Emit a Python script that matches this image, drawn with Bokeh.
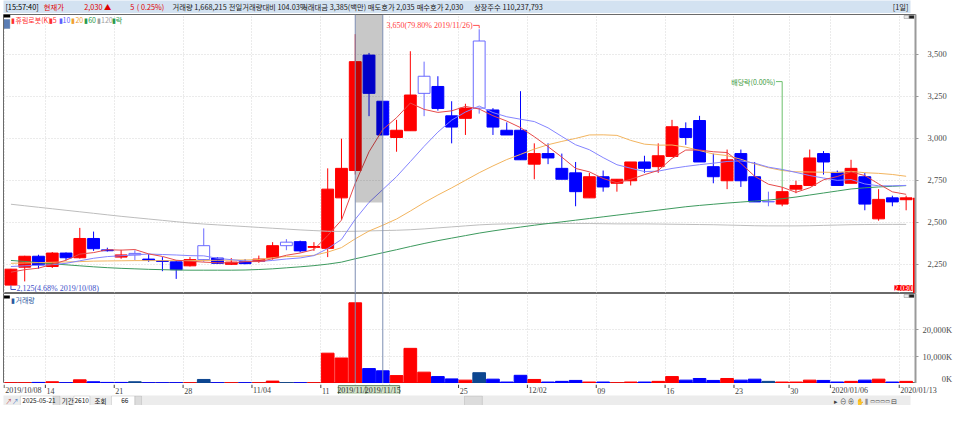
from bokeh.plotting import figure
from bokeh.models import (Range1d, FixedTicker, NumeralTickFormatter, Span, BoxAnnotation,
                          Label, ColumnDataSource, Grid)
from bokeh.layouts import column
from bokeh.embed import file_html
from bokeh.resources import INLINE
from bokeh.core.properties import value

# ---------------- data ----------------
dates = ["2019/10/08", "2019/10/10", "2019/10/11", "2019/10/14", "2019/10/15", "2019/10/16",
         "2019/10/17", "2019/10/18", "2019/10/21", "2019/10/22", "2019/10/23", "2019/10/24",
         "2019/10/25", "2019/10/28", "2019/10/29", "2019/10/30", "2019/10/31", "2019/11/01",
         "2019/11/04", "2019/11/05", "2019/11/06", "2019/11/07", "2019/11/08", "2019/11/11",
         "2019/11/12", "2019/11/13", "2019/11/14", "2019/11/15", "2019/11/18", "2019/11/19",
         "2019/11/20", "2019/11/21", "2019/11/22", "2019/11/25", "2019/11/26", "2019/11/27",
         "2019/11/28", "2019/11/29", "2019/12/02", "2019/12/03", "2019/12/04", "2019/12/05",
         "2019/12/06", "2019/12/09", "2019/12/10", "2019/12/11", "2019/12/12", "2019/12/13",
         "2019/12/16", "2019/12/17", "2019/12/18", "2019/12/19", "2019/12/20", "2019/12/23",
         "2019/12/24", "2019/12/26", "2019/12/27", "2019/12/30", "2020/01/02", "2020/01/03",
         "2020/01/06", "2020/01/07", "2020/01/08", "2020/01/09", "2020/01/10", "2020/01/13"]

opens = [2125, 2232, 2297, 2236, 2316, 2288, 2403, 2335, 2292, 2314, 2280, 2271, 2264, 2240,
         2360, 2286, 2249, 2264, 2266, 2288, 2381, 2384, 2350, 2344, 2645, 2808, 3496, 3221,
         3005, 3045, 3370, 3309, 3134, 3119, 3580, 3169, 3048, 3048, 2846, 2909, 2821, 2794,
         2645, 2771, 2732, 2747, 2859, 2831, 2892, 3058, 3106, 2831, 2747, 2909, 2771, 2624,
         2608, 2697, 2719, 2909, 2797, 2732, 2771, 2520, 2645, 2634]
highs = [2222, 2300, 2306, 2322, 2320, 2466, 2444, 2348, 2335, 2333, 2310, 2292, 2273, 2292,
         2463, 2290, 2286, 2280, 2301, 2381, 2399, 2390, 2381, 2821, 2998, 3621, 3509, 3221,
         3110, 3519, 3457, 3370, 3221, 3206, 3650, 3180, 3095, 3281, 2970, 2970, 2909, 2859,
         2794, 2808, 2756, 2859, 2896, 2970, 3110, 3095, 3134, 2909, 2933, 2933, 2859, 2682,
         2710, 2747, 2933, 2924, 2808, 2872, 2794, 2697, 2658, 2658]
lows = [2125, 2147, 2223, 2227, 2273, 2283, 2329, 2325, 2282, 2273, 2264, 2208, 2162, 2236,
        2264, 2251, 2245, 2249, 2258, 2277, 2333, 2320, 2329, 2292, 2515, 2784, 3132, 3020,
        2920, 3045, 3132, 3165, 2970, 3020, 3147, 3020, 3020, 2872, 2756, 2846, 2756, 2595,
        2645, 2682, 2682, 2719, 2794, 2794, 2892, 2961, 2859, 2732, 2697, 2710, 2621, 2595,
        2595, 2673, 2719, 2784, 2719, 2732, 2571, 2509, 2595, 2571]
closes = [2220, 2297, 2245, 2316, 2288, 2403, 2342, 2330, 2305, 2305, 2273, 2266, 2217, 2277,
          2277, 2255, 2262, 2253, 2280, 2360, 2360, 2329, 2355, 2697, 2821, 3457, 3268, 3020,
          3048, 3258, 3268, 3178, 3067, 3180, 3180, 3067, 3020, 2872, 2909, 2883, 2756, 2682,
          2771, 2710, 2756, 2859, 2821, 2896, 3069, 3005, 2859, 2771, 2872, 2747, 2621, 2621,
          2682, 2719, 2883, 2859, 2719, 2821, 2608, 2636, 2621, 2645]
volumes_k = [290, 290, 400, 640, 290, 1360, 640, 400, 400, 640, 290, 290, 290, 290,
             1500, 290, 290, 290, 290, 890, 290, 290, 290, 11250, 9460, 29930, 5540, 4710,
             2930, 13040, 4210, 2570, 1710, 1250, 4000, 1610, 540, 3040, 1500, 540, 790, 1140,
             540, 540, 290, 540, 540, 790, 2570, 1250, 1860, 1140, 1860, 1250, 1610, 790,
             540, 540, 1250, 1140, 540, 790, 1250, 1610, 540, 790]

# moving-average values before a full window is visible
ma5_head = [2202, 2217, 2226, 2249]
ma10_head = [2236, 2240, 2243, 2247, 2255, 2270, 2285, 2295, 2300]
ma20_head = [2255, 2257, 2259, 2261, 2263, 2265, 2268, 2269, 2270, 2271, 2271, 2271, 2271,
             2272, 2272, 2273, 2274, 2275, 2277]
ma60 = [2272, 2266, 2259, 2252, 2246, 2240, 2234, 2229, 2225, 2222, 2219, 2217, 2215, 2214,
        2214, 2214, 2214, 2215, 2218, 2222, 2228, 2234, 2241, 2250, 2262, 2282, 2300, 2318,
        2336, 2355, 2373, 2390, 2405, 2420, 2435, 2448, 2460, 2471, 2482, 2492, 2502, 2512,
        2522, 2532, 2542, 2552, 2562, 2572, 2582, 2592, 2600, 2607, 2614, 2620, 2626, 2632,
        2640, 2650, 2662, 2674, 2686, 2698, 2705, 2710, 2714, 2718]
ma120 = [2607, 2598, 2589, 2580, 2571, 2562, 2553, 2544, 2535, 2527, 2519, 2511, 2503, 2495,
         2489, 2484, 2479, 2474, 2469, 2464, 2459, 2454, 2450, 2446, 2445, 2446, 2448, 2450,
         2452, 2455, 2460, 2466, 2472, 2478, 2484, 2488, 2490, 2491, 2492, 2492, 2492, 2492,
         2492, 2491, 2490, 2490, 2490, 2489, 2488, 2487, 2486, 2485, 2483, 2481, 2479, 2478,
         2478, 2478, 2479, 2481, 2483, 2485, 2486, 2487, 2487, 2487]

tick_idx = [0, 3, 8, 13, 18, 23, 28, 33, 38, 43, 48, 53, 57, 60, 65]
tick_labels = ["2019/10/08", "14", "21", "28", "11/04", "11", "18", "25", "12/02", "09",
               "16", "23", "30", "2020/01/06", "2020/01/13"]
price_ticks = [2250, 2500, 2750, 3000, 3250, 3500]
volume_ticks_k = [0, 10000, 20000]

stock_name = "휴림로봇(K)"
current_price = 2030
change = 5
volume_today = "1,668,215"
vol_vs_prev = "104.03%"
turnover = "3,385(백만)"
ask_price = "2,035"
bid_price = "2,030"
shares = "110,237,793"
clock = "[15:57:40]"
sel_from, sel_to = 25, 27        # crosshair range (candle index)
sel_band_low = 2617
exdiv_idx = 56
exdiv_text = "배당락(0.00%)"

# ---------------- derived ----------------
n = len(closes)
idx = list(range(n))


def sma(vals, w, head):
    out = list(head)
    for i in range(w - 1, len(vals)):
        out.append(sum(vals[i - w + 1:i + 1]) / w)
    return out


ma5 = sma(closes, 5, ma5_head)
ma10 = sma(closes, 10, ma10_head)
ma20 = sma(closes, 20, ma20_head)

RED, BLUE, HOLLOW, NAVY = "#ff0000", "#0000ff", "#6b6bff", "#0d4690"
fills, lines, vcols = [], [], []
for i in range(n):
    if closes[i] > opens[i]:
        fills.append(RED); lines.append(RED)
    elif i > 0 and closes[i] >= closes[i - 1]:
        fills.append("#ffffff"); lines.append(HOLLOW)
    else:
        fills.append(BLUE); lines.append(BLUE)
    if i == 0 or closes[i] > closes[i - 1]:
        vcols.append(RED)
    elif closes[i] < closes[i - 1]:
        vcols.append(BLUE)
    else:
        vcols.append(NAVY)

src = ColumnDataSource(dict(x=idx, top=[max(o, c) for o, c in zip(opens, closes)],
                            bottom=[min(o, c) for o, c in zip(opens, closes)],
                            high=highs, low=lows, fill=fills, line=lines,
                            vol=volumes_k, vcol=vcols))

NUMF = "Liberation Sans Narrow"
KRF = "Noto Sans CJK KR"
X0, X1 = -0.54, 65.68
XR = Range1d(X0, X1)
FW = 912
RIGHT = 35
PH = 279
x_ticks = [t - 0.5 for t in tick_idx]
PMIN, PMAX = 2075, 3738
VMAX = 33390
GRID = "#d6d6d6"
ppx = (PMAX - PMIN) / PH


def style_right_axis(ax, standoff):
    ax.major_label_text_font = NUMF
    ax.major_label_text_font_size = "8.5px"
    ax.major_label_text_color = "#4a4a4a"
    ax.axis_line_color = "#9a9a9a"
    ax.axis_line_width = 2
    ax.major_tick_line_color = "#9a9a9a"
    ax.major_tick_in = 0
    ax.major_tick_out = 3
    ax.minor_tick_line_color = None
    ax.major_label_standoff = standoff


# ---------------- info bar ----------------
info = figure(width=950, height=13, x_range=Range1d(0, 966), y_range=Range1d(0, 13),
              toolbar_location=None, output_backend="svg", x_axis_type=None, y_axis_type=None,
              min_border=0, background_fill_color="#d3e2f1", outline_line_color=None)
info.grid.visible = False
pct = change / (current_price - change) * 100
info_items = [
    (2, clock, "#000000"), (43, "현재가", "#e00000"), (86, f"{current_price:,}", "#e00000"),
    (107, "▲", "#e00000"), (135, f"{change}", "#e00000"), (142, f"( {pct:.2f}%)", "#e00000"),
    (180, f"거래량 {volume_today}", "#202020"), (240, f"전일거래량대비 {vol_vs_prev}", "#202020"),
    (317, f"거래대금 {turnover}", "#202020"), (388, f"매도호가 {ask_price}", "#202020"),
    (440, f"매수호가 {bid_price}", "#202020"), (501, f"상장주수 {shares}", "#202020"),
    (947, "[1일]", "#202020"),
]
for xx, t, c in info_items:
    info.add_layout(Label(x=xx, y=6.5, text=t, text_color=c, text_font=KRF,
                          text_font_size="7.3px", text_baseline="middle"))

# ---------------- price panel ----------------
p = figure(frame_width=FW, frame_height=PH, x_range=XR, y_range=Range1d(PMIN, PMAX),
           x_axis_type=None, y_axis_location="right", toolbar_location=None,
           output_backend="svg", min_border_left=3, min_border_right=RIGHT, min_border_top=1,
           min_border_bottom=0, outline_line_color="#6a6a6a", background_fill_color="white")
p.add_layout(Grid(dimension=0, ticker=FixedTicker(ticks=x_ticks), grid_line_color=GRID,
                  grid_line_dash="1 2"))
p.yaxis.ticker = FixedTicker(ticks=price_ticks)
p.yaxis.formatter = NumeralTickFormatter(format="0,0")
p.ygrid.grid_line_color = GRID
p.ygrid.grid_line_dash = "1 2"
style_right_axis(p.yaxis[0], 9)

p.segment(x0="x", y0="low", x1="x", y1="high", line_color="line", line_width=1, source=src)
p.vbar(x="x", top="top", bottom="bottom", width=0.86, fill_color="fill", line_color="line",
       line_width=1, source=src)

p.line(idx, ma120, line_color="#bdbdbd", line_width=1)
p.line(idx, ma60, line_color="#3d9a5e", line_width=1)
p.line(idx, ma20, line_color="#f2b45e", line_width=1)
p.line(idx, ma10, line_color="#8484ff", line_width=1)
p.line(idx, ma5, line_color="#e64a4a", line_width=1)

# current price drop line at the right edge
p.segment(x0=[n - 1 + 0.57], y0=[closes[-1]], x1=[n - 1 + 0.57], y1=[current_price],
          line_color=RED, line_width=2)

# crosshair range band and lines
p.add_layout(BoxAnnotation(left=sel_from, right=sel_to, bottom=sel_band_low,
                           fill_color="black", fill_alpha=0.215, line_color=None))
for loc in (sel_from, sel_to):
    p.add_layout(Span(location=loc, dimension="height", line_color="#7d8eb3", line_width=1))

# max / min markers
hi_i = max(range(n), key=lambda i: highs[i])
lo_i = min(range(n), key=lambda i: lows[i])
hi, lo = highs[hi_i], lows[lo_i]
hi_txt = f"{hi:,}({(hi / current_price - 1) * 100:.2f}% {dates[hi_i]})"
lo_txt = f"{lo:,}({(lo / current_price - 1) * 100:.2f}% {dates[lo_i]})"
p.line([hi_i - 0.44, hi_i, hi_i], [hi + 23, hi + 23, hi + 6], line_color="#ff5050", line_width=1)
p.add_layout(Label(x=hi_i - 0.47, y=hi + 23, text=hi_txt, text_align="right",
                   text_baseline="middle", text_color="#ff4040", text_font=NUMF,
                   text_font_size="8px"))
p.line([lo_i, lo_i, lo_i + 0.36], [lo - 2, lo - 26, lo - 26], line_color="#4050c8", line_width=1)
p.add_layout(Label(x=lo_i + 0.4, y=lo - 22, text=lo_txt, text_align="left",
                   text_baseline="middle", text_color="#4050c8", text_font=NUMF,
                   text_font_size="8px"))

# ex-dividend marker
ex_y = 3338
p.line([exdiv_idx - 0.45, exdiv_idx, exdiv_idx], [ex_y, ex_y, highs[exdiv_idx]],
       line_color="#6cc06c", line_width=1)
p.add_layout(Label(x=exdiv_idx - 0.5, y=ex_y, text=exdiv_text, text_align="right",
                   text_baseline="middle", text_color="#3c9a3c", text_font=KRF,
                   text_font_size="7px"))

# legend and panel buttons
p.add_layout(BoxAnnotation(left=-0.54, right=-0.05, top=PMAX, bottom=PMAX - 3 * ppx,
                           fill_color="#000000", fill_alpha=1, line_color=None))
p.add_layout(BoxAnnotation(left=-0.5, right=-0.08, top=PMAX - 5 * ppx, bottom=PMAX - 14 * ppx,
                           fill_color="#5a7db5", fill_alpha=1, line_color="#3a5a8a"))
for l, r, c in [(64.85, 65.2, "#e8e8e8"), (65.22, 65.57, "#202020")]:
    p.add_layout(BoxAnnotation(left=l, right=r, top=PMAX - 1 * ppx, bottom=PMAX - 4 * ppx,
                               fill_color=c, fill_alpha=1, line_color="#505050"))
legend_items = [(0.04, "▮" + stock_name, "#ff3030"), (2.75, "▮5", "#ff3030"),
                (3.46, "▮10", "#6060ff"), (4.39, "▮20", "#f0a030"), (5.32, "▮60", "#2a9a4a"),
                (6.25, "▮120", "#a0a0a0"), (7.32, "▮락", "#2a9a4a")]
for xx, t, c in legend_items:
    p.add_layout(Label(x=xx, y=PMAX - ppx * 0.3, text=t, text_color=c, text_font=KRF,
                       text_font_size="7px", text_baseline="top"))

# current price tag (kept inside the frame, next to the drop line)
p.add_layout(Label(x=n - 1 + 0.45, y=PMIN + 2.5 * ppx, text=f"{current_price:,}",
                   text_color="white", background_fill_color=RED, text_font=NUMF,
                   text_font_size="8px", text_baseline="bottom", text_align="right"))

# ---------------- volume panel ----------------
v = figure(frame_width=FW, frame_height=90, x_range=XR, y_range=Range1d(0, VMAX),
           x_axis_type=None, y_axis_location="right", toolbar_location=None,
           output_backend="svg", min_border_left=3, min_border_right=RIGHT, min_border_top=0,
           min_border_bottom=0, outline_line_color="#6a6a6a", background_fill_color="white")
v.add_layout(Grid(dimension=0, ticker=FixedTicker(ticks=x_ticks), grid_line_color=GRID,
                  grid_line_dash="1 2"))
v.vbar(x="x", top="vol", bottom=0, width=0.92, fill_color="vcol", line_color="vcol",
       source=src)
v.yaxis.ticker = FixedTicker(ticks=volume_ticks_k)
pad = "\u2007\u2007\u2008\u2007\u2007"
v.yaxis.major_label_overrides = {t: (f"{t:,}K" if t else pad + "0K") for t in volume_ticks_k}
style_right_axis(v.yaxis[0], 4)
v.ygrid.grid_line_color = GRID
v.ygrid.grid_line_dash = "1 2"
for loc in (sel_from, sel_to):
    v.add_layout(Span(location=loc, dimension="height", line_color="#7d8eb3", line_width=1))
vpx = VMAX / 90
v.add_layout(BoxAnnotation(left=-0.5, right=-0.08, top=VMAX - 2 * vpx, bottom=VMAX - 5 * vpx,
                           fill_color="#000000", fill_alpha=1, line_color=None))
for l, r, c in [(64.85, 65.2, "#e8e8e8"), (65.22, 65.57, "#202020")]:
    v.add_layout(BoxAnnotation(left=l, right=r, top=VMAX - 1 * vpx, bottom=VMAX - 4 * vpx,
                               fill_color=c, fill_alpha=1, line_color="#505050"))
v.add_layout(Label(x=0.04, y=VMAX - 1 * vpx, text="▮거래량", text_color="#2a5aa0",
                   text_font=KRF, text_font_size="7px", text_baseline="top"))

# ---------------- date strip (x labels), frame runs under the axis column too --------
per_px = (X1 - X0) / FW
ds = figure(frame_width=FW + RIGHT, frame_height=11, x_range=Range1d(X0, X1 + RIGHT * per_px),
            y_range=Range1d(0, 11), x_axis_type=None, y_axis_type=None, toolbar_location=None,
            output_backend="svg", min_border_left=3, min_border_right=0, min_border_top=0,
            min_border_bottom=0, outline_line_color=None, background_fill_color="white")
ds.grid.visible = False
ds.segment(x0=x_ticks, y0=[11] * len(x_ticks), x1=x_ticks, y1=[7.5] * len(x_ticks),
           line_color="#404040", line_width=1)
ds.text(x=[t + 0.08 for t in x_ticks], y=[5] * len(x_ticks), text=tick_labels,
        text_font=value(NUMF), text_font_size="8px", text_color="#404040",
        text_baseline="middle", text_align="left")
ds.segment(x0=[sel_from, sel_to], y0=[11, 11], x1=[sel_from, sel_to], y1=[0, 0],
           line_color="#7d8eb3", line_width=1)
for loc in (sel_from, sel_to):
    ds.rect(x=[loc], y=[5.2], width=2.45, height=9.5, fill_color="#d0e2c8",
            line_color="#6f8f6f", line_width=1)
    ds.text(x=[loc], y=[5], text=[dates[loc]], text_font=value(NUMF), text_font_size="8px",
            text_color="#303030", text_baseline="middle", text_align="center")

# ---------------- bottom control bar ----------------
bot = figure(width=950, height=11, x_range=Range1d(0, 966), y_range=Range1d(0, 11),
             toolbar_location=None, output_backend="svg", x_axis_type=None, y_axis_type=None,
             min_border=0, background_fill_color="#ececec", outline_line_color=None)
bot.grid.visible = False
for l, r in [(18, 53), (75, 92), (115, 140)]:
    bot.add_layout(BoxAnnotation(left=l, right=r, top=10.5, bottom=1, fill_color="white",
                                 fill_alpha=1, line_color="#9a9a9a"))
for l, r in [(53, 60), (140, 147), (491, 510)]:
    bot.add_layout(BoxAnnotation(left=l, right=r, top=10.5, bottom=1, fill_color="#dcdcdc",
                                 fill_alpha=1, line_color="#9a9a9a"))
bottom_items = [(2, "↗", "#c04040", "left"), (9, "↗", "#4070c0", "left"),
                (20, "2025-05-21", "#202020", "left"), (62, "기간", "#202020", "left"),
                (91, "2610", "#202020", "right"), (97, "조회", "#202020", "left"),
                (133, "66", "#202020", "right"), (885, "▸ ⊖ ⊕ ✋ ⫼ ▭▭▭▭ ⊟", "#404040", "left")]
for xx, t, c, al in bottom_items:
    bot.add_layout(Label(x=xx, y=5.7, text=t, text_color=c, text_font=KRF,
                         text_font_size="6.5px", text_baseline="middle", text_align=al))

layout = column(info, p, v, ds, bot, spacing=0)
open("out.html", "w").write(file_html(layout, INLINE))
